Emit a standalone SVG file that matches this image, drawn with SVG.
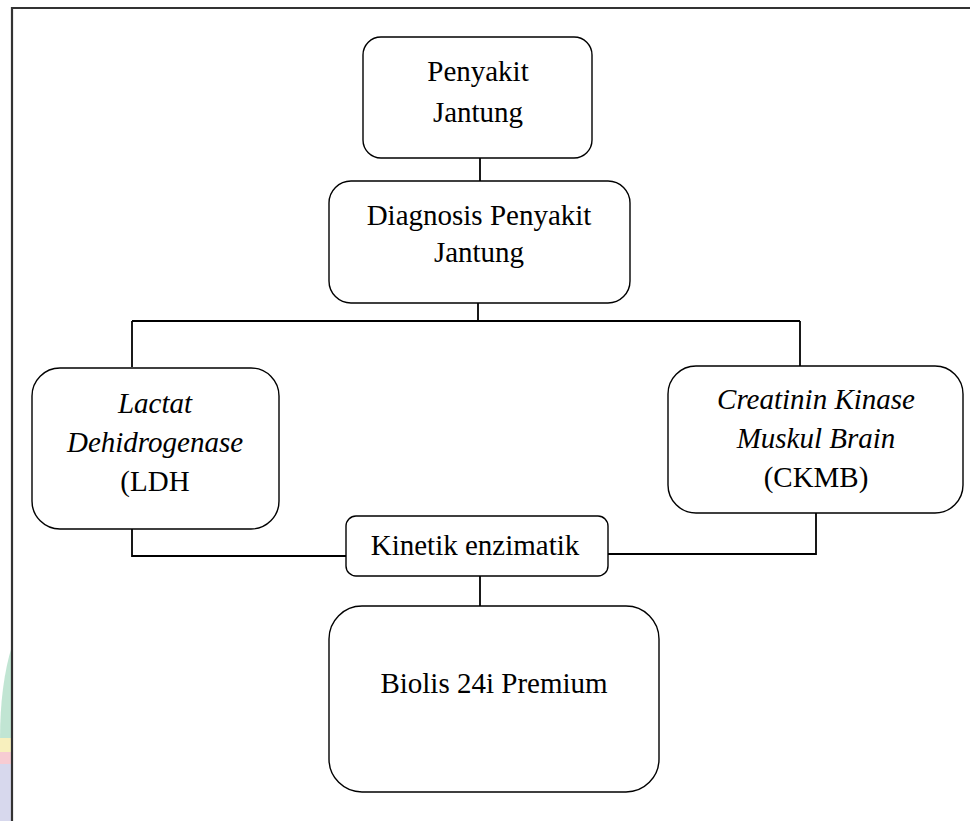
<svg xmlns="http://www.w3.org/2000/svg" width="970" height="821" viewBox="0 0 970 821">
<style>
.box{fill:#fff;stroke:#000;stroke-width:1.4}
.ln{fill:none;stroke:#000;stroke-width:1.8}
text{font-family:"Liberation Serif","Times New Roman",serif;font-size:29px;fill:#000;text-anchor:middle}
.it{font-style:italic}
</style>
<rect width="970" height="821" fill="#fff"/>
<defs><clipPath id="wm"><rect x="0" y="600" width="12" height="221"/></clipPath></defs>
<g id="watermark" clip-path="url(#wm)" opacity="0.55">
<path d="M14,640 Q0,680 0,740 L14,740 Z" fill="#8fd1b0"/>
<rect x="0" y="738" width="14" height="14" fill="#f3e58a"/>
<rect x="0" y="752" width="14" height="12" fill="#f1a3b0"/>
<rect x="0" y="764" width="14" height="57" fill="#b7b9df"/>
</g>
<g id="frame"><path d="M12,821 V8 H970" fill="none" stroke="#333" stroke-width="2.2"/></g>
<g id="connectors">
<path class="ln" d="M480,158 V181"/>
<path class="ln" d="M478,303 V321"/>
<path class="ln" d="M132,321 H800"/>
<path class="ln" d="M132,321 V367"/>
<path class="ln" d="M800,321 V366"/>
<path class="ln" d="M132,529 V556 H347"/>
<path class="ln" d="M608,554 H816 V513"/>
<path class="ln" d="M480,576 V606"/>
</g>
<g id="n1"><rect class="box" x="363" y="37" width="229" height="121" rx="18"/>
<text x="478" y="81">Penyakit</text><text x="478" y="122">Jantung</text></g>
<g id="n2"><rect class="box" x="329" y="181" width="301" height="122" rx="22"/>
<text x="479" y="225">Diagnosis Penyakit</text><text x="479" y="262">Jantung</text></g>
<g id="n3"><rect class="box" x="32" y="368" width="247" height="161" rx="28"/>
<text class="it" x="155" y="413">Lactat</text><text class="it" x="155" y="452">Dehidrogenase</text><text x="155" y="491">(LDH</text></g>
<g id="n4"><rect class="box" x="668" y="366" width="295" height="147" rx="28"/>
<text class="it" x="816" y="409">Creatinin Kinase</text><text class="it" x="816" y="448">Muskul Brain</text><text x="816" y="487">(CKMB)</text></g>
<g id="n5"><rect class="box" x="346" y="516" width="262" height="60" rx="10"/>
<text x="475" y="555">Kinetik enzimatik</text></g>
<g id="n6"><rect class="box" x="329" y="606" width="330" height="186" rx="33"/>
<text x="494" y="693">Biolis 24i Premium</text></g>
</svg>
